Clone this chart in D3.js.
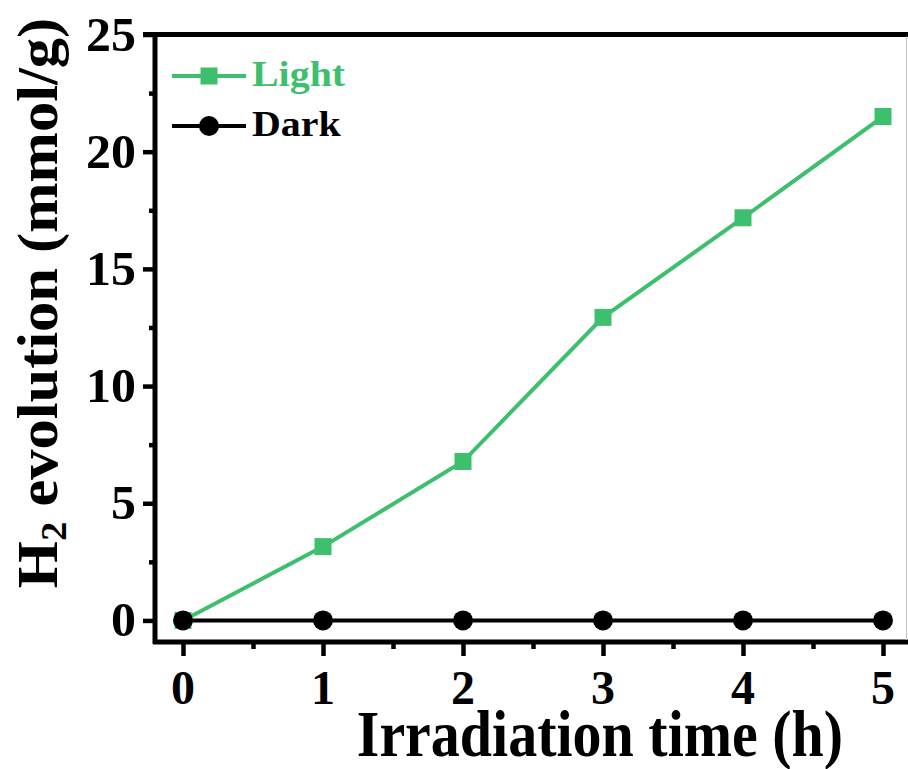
<!DOCTYPE html>
<html lang="en">
<head>
<meta charset="UTF-8">
<title>H2 evolution</title>
<script src="https://d3js.org/d3.v7.min.js"></script>
<style>
  body { margin: 0; background: #fff; }
  svg { display: block; }
  text { font-family: "Liberation Serif", "Times New Roman", serif; font-weight: bold; }
</style>
</head>
<body>
<svg id="chart" width="908" height="769"></svg>
<script>
// data
const times = [0, 1, 2, 3, 4, 5];
const lightValues = [0, 3.15, 6.78, 12.93, 17.18, 21.5];
const darkValues = [0, 0, 0, 0, 0, 0];
const xTicks = [0, 1, 2, 3, 4, 5];
const yTicks = [0, 5, 10, 15, 20, 25];
const seriesNames = ["Light", "Dark"];

const green = "#3dbf6e";

const svg = d3.select("#chart");

const x = d3.scaleLinear().domain([-0.2, 5.2]).range([155, 911]);
const y = d3.scaleLinear().domain([-0.92, 25]).range([642, 34.5]);

const plotLeft = x(-0.2), plotBottom = y(-0.92), plotTop = y(25);

// y axis
svg.append("g").attr("transform", `translate(${plotLeft},0)`)
  .call(d3.axisLeft(y).tickValues(yTicks).tickSize(12).tickFormat(""))
  .call(g => g.select(".domain").remove())
  .selectAll("line").attr("stroke", "#000").attr("stroke-width", 4.5);

svg.append("g").attr("transform", `translate(${plotLeft},0)`)
  .call(d3.axisLeft(y).tickValues(d3.range(2.5, 25, 5)).tickSize(6).tickFormat(""))
  .call(g => g.select(".domain").remove())
  .selectAll("line").attr("stroke", "#000").attr("stroke-width", 4.5);

svg.selectAll(".ylab").data(yTicks).join("text")
  .attr("class", "ylab")
  .attr("text-anchor", "end")
  .attr("font-size", 48)
  .attr("transform", d => `translate(136,${y(d) + 16}) scale(1.04,1)`)
  .text(d => d);

// x axis
svg.append("g").attr("transform", `translate(0,${plotBottom})`)
  .call(d3.axisBottom(x).tickValues(xTicks).tickSize(14).tickFormat(""))
  .call(g => g.select(".domain").remove())
  .selectAll("line").attr("stroke", "#000").attr("stroke-width", 4.5);

svg.append("g").attr("transform", `translate(0,${plotBottom})`)
  .call(d3.axisBottom(x).tickValues(d3.range(0.5, 5.2, 1)).tickSize(7).tickFormat(""))
  .call(g => g.select(".domain").remove())
  .selectAll("line").attr("stroke", "#000").attr("stroke-width", 4.5);

svg.selectAll(".xlab").data(xTicks).join("text")
  .attr("class", "xlab")
  .attr("text-anchor", "middle")
  .attr("font-size", 48)
  .attr("transform", d => `translate(${x(d)},704)`)
  .text(d => d);

// frame
svg.append("line").attr("x1", plotLeft - 12).attr("x2", 908).attr("y1", plotTop).attr("y2", plotTop)
  .attr("stroke", "#000").attr("stroke-width", 5);
svg.append("line").attr("x1", plotLeft).attr("x2", plotLeft).attr("y1", plotTop - 2).attr("y2", plotBottom + 2)
  .attr("stroke", "#000").attr("stroke-width", 5);
svg.append("line").attr("x1", plotLeft - 2).attr("x2", 908).attr("y1", plotBottom).attr("y2", plotBottom)
  .attr("stroke", "#000").attr("stroke-width", 5);
svg.append("line").attr("x1", 906.5).attr("x2", 906.5).attr("y1", plotTop + 2).attr("y2", plotBottom - 2)
  .attr("stroke", "#c8c8c8").attr("stroke-width", 1);

// series
const lightData = times.map((t, i) => ({t, v: lightValues[i]}));
const darkData = times.map((t, i) => ({t, v: darkValues[i]}));
const line = d3.line().x(d => x(d.t)).y(d => y(d.v));

svg.append("path").datum(lightData).attr("d", line)
  .attr("fill", "none").attr("stroke", green).attr("stroke-width", 4);
svg.selectAll(".sq").data(lightData).join("rect")
  .attr("class", "sq")
  .attr("x", d => x(d.t) - 8.5).attr("y", d => y(d.v) - 8.5)
  .attr("width", 17).attr("height", 17).attr("fill", green);

svg.append("path").datum(darkData).attr("d", line)
  .attr("fill", "none").attr("stroke", "#000").attr("stroke-width", 4);
svg.selectAll(".dot").data(darkData).join("circle")
  .attr("class", "dot")
  .attr("cx", d => x(d.t)).attr("cy", d => y(d.v)).attr("r", 10).attr("fill", "#000");

// legend
const leg = svg.append("g");
const legColors = [green, "#000"];
const legY = [76, 126];
seriesNames.forEach((name, i) => {
  leg.append("line").attr("x1", 172).attr("x2", 246).attr("y1", legY[i]).attr("y2", legY[i])
    .attr("stroke", legColors[i]).attr("stroke-width", 4);
  if (i === 0) {
    leg.append("rect").attr("x", 209 - 8.5).attr("y", legY[i] - 8.5).attr("width", 17).attr("height", 17)
      .attr("fill", legColors[i]);
  } else {
    leg.append("circle").attr("cx", 209).attr("cy", legY[i]).attr("r", 10).attr("fill", legColors[i]);
  }
  leg.append("text").attr("font-size", 35).attr("fill", legColors[i])
    .attr("transform", `translate(252,${legY[i] + 10}) scale(1.14,1)`)
    .text(name);
});

// axis titles
svg.append("text").attr("text-anchor", "middle").attr("font-size", 58)
  .attr("transform", `translate(600,756) scale(1,1.12)`)
  .text("Irradiation time (h)");

const yt = svg.append("text").attr("text-anchor", "middle").attr("font-size", 56)
  .attr("transform", `translate(57,303) scale(1,1.08) rotate(-90)`);
yt.append("tspan").text("H");
yt.append("tspan").attr("font-size", 36).attr("dy", 9).text("2");
yt.append("tspan").attr("dy", -9).text(" evolution (mmol/g)");
</script>
</body>
</html>
